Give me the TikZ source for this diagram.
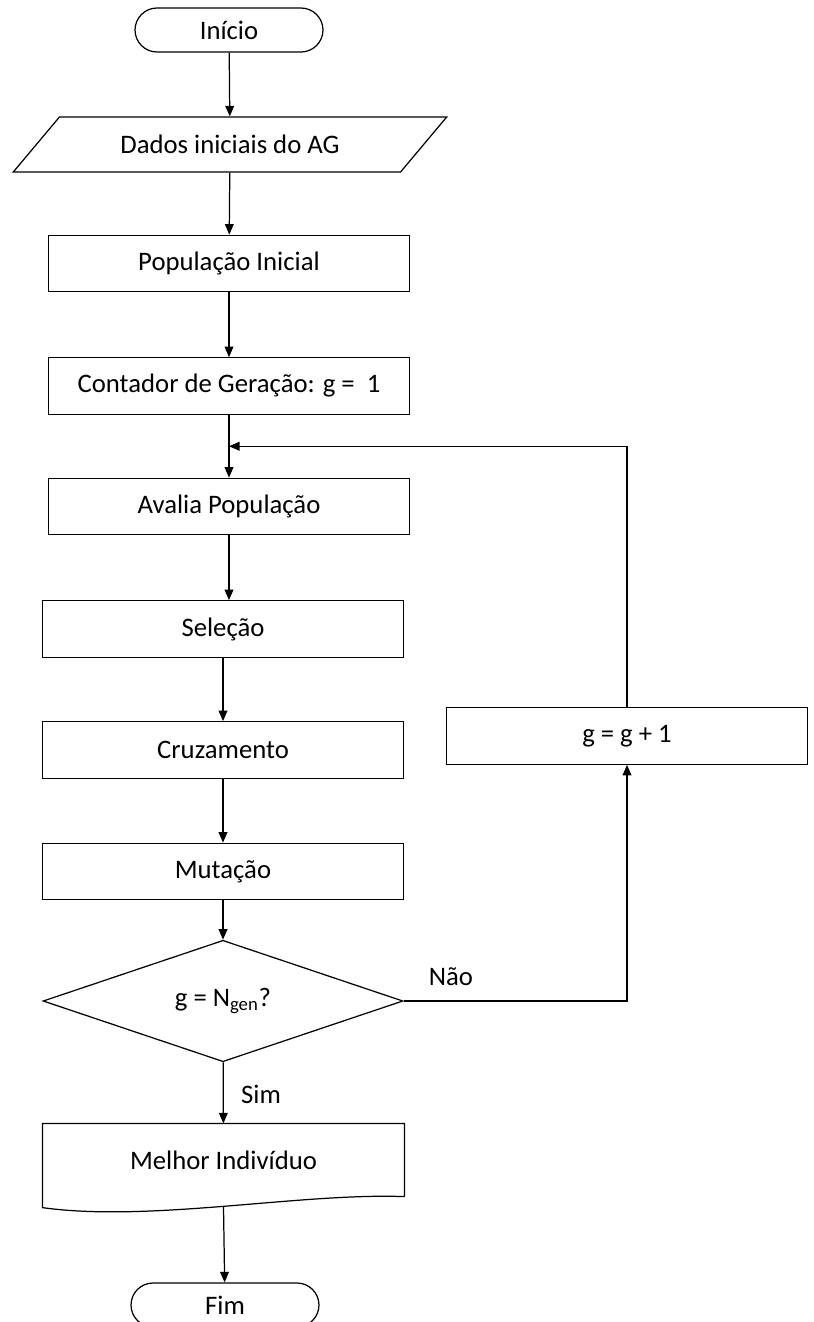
\documentclass[tikz,border=0pt]{standalone}
\usepackage{fontspec}
\setmainfont{Carlito}
\usetikzlibrary{arrows.meta,shapes.geometric,shapes.misc,calc}
\begin{document}
\begin{tikzpicture}[x=0.02cm,y=-0.02cm,
    font=\fontsize{15.2}{18}\selectfont,
    line width=0.7pt,
    terminal/.style={draw,rounded rectangle,minimum width=3.76cm,minimum height=0.88cm,inner sep=0pt},
    entrada/.style={draw,trapezium,trapezium left angle=32.3,trapezium right angle=147.7,
      trapezium stretches=true,minimum width=8.68cm,minimum height=1.1cm,inner sep=0pt},
    processo/.style={draw,rectangle,minimum width=7.22cm,minimum height=1.13cm,inner sep=0pt},
    decisao/.style={draw,diamond,minimum width=7.2cm,minimum height=1.8cm,inner sep=0pt},
    documento/.style={rectangle,minimum width=7.22cm,minimum height=1.44cm,inner sep=0pt},
    seta/.style={-{Triangle[width=5pt,length=6pt]}}]
  \useasboundingbox (0,0) rectangle (814,1322);
  \draw
    (229,30) node[terminal] (inicio){Início}
    (230,144.5) node[entrada] (dados){Dados iniciais do AG}
    (229,263.5) node[processo] (pop){População Inicial}
    (229,386) node[processo] (cont){Contador de Geração: g =~~1}
    (229,506.5) node[processo] (aval){Avalia População}
    (223,629) node[processo] (sel){Seleção}
    (223,750) node[processo] (cruz){Cruzamento}
    (223,871.5) node[processo] (mut){Mutação}
    (223,1001) node[decisao] (teste){g = N\textsubscript{gen}?}
    (627,736) node[processo] (incr){g = g + 1}
    (223.5,1160) node[documento] (doc){Melhor Indivíduo}
    (225,1305) node[terminal] (fim){Fim};
  % contorno do documento
  \draw (doc.south east) -- (doc.north east) -- (doc.north west)
    -- ($(doc.south west)+(0,11)$)
    .. controls ($(doc.south west)+(107,26)$) and ($(doc.south east)+(-104,-4)$) .. (doc.south east);
  \coordinate (retorno) at ($(cont.south)!0.5!(aval.north)$);
  \coordinate (docbase) at ($(doc.south)+(0,10)$);
  \begin{scope}[seta]
    \draw (inicio) to (dados);
    \draw (dados) to (pop);
    \draw (pop) to (cont);
    \draw (cont) to (aval);
    \draw (aval.south) to (aval.south |- sel.north);
    \draw (sel) to (cruz);
    \draw (cruz) to (mut);
    \draw (mut) to (teste);
    \draw (teste.east) -| (incr.south);
    \draw (incr.north) |- (retorno);
    \draw (teste) to (doc);
    \draw (docbase) to (fim);
  \end{scope}
  \node (nao) at (451,977) {Não};
  \node (sim) at (261,1094) {Sim};
\end{tikzpicture}
\end{document}
